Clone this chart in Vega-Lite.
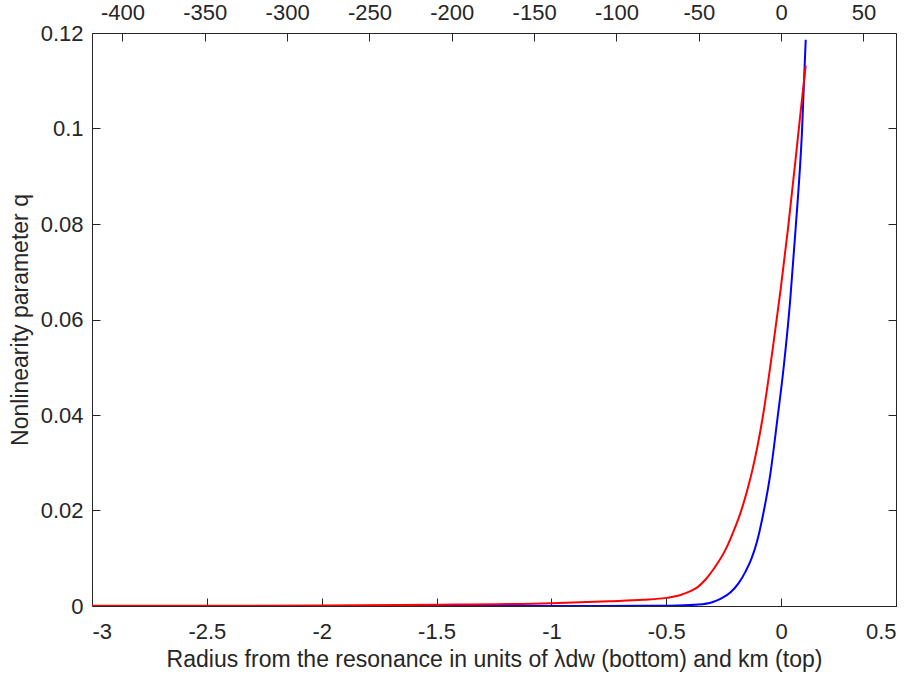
{
  "$schema": "https://vega.github.io/schema/vega-lite/v6.json",
  "width": 804,
  "height": 573,
  "autosize": {"type": "none"},
  "padding": {"left": 92, "top": 33, "right": 20, "bottom": 77},
  "background": "white",
  "config": {
    "locale": {
      "number": {"decimal": ".", "thousands": ",", "grouping": [3], "currency": ["$", ""], "minus": "-"}
    },
    "view": {"stroke": "#262626", "strokeWidth": 1},
    "axis": {
      "grid": false,
      "domain": false,
      "tickColor": "#262626",
      "labelColor": "#262626",
      "titleColor": "#262626",
      "labelFont": "Liberation Sans",
      "titleFont": "Liberation Sans",
      "labelFontSize": 22,
      "titleFontSize": 23,
      "titleFontWeight": "normal",
      "tickSize": 8,
      "tickWidth": 1,
      "offset": -8,
      "labelPadding": 9
    }
  },
  "layer": [
    {
      "data": {
        "values": [
          {"x": -3.0, "q": 0.0, "series": "blue"},
          {"x": -1.0, "q": 0.00001, "series": "blue"},
          {"x": -0.6, "q": 0.00003, "series": "blue"},
          {"x": -0.45, "q": 0.0001, "series": "blue"},
          {"x": -0.36, "q": 0.0003, "series": "blue"},
          {"x": -0.3, "q": 0.0008, "series": "blue"},
          {"x": -0.26, "q": 0.0016, "series": "blue"},
          {"x": -0.22, "q": 0.0029, "series": "blue"},
          {"x": -0.185, "q": 0.0048, "series": "blue"},
          {"x": -0.155, "q": 0.0072, "series": "blue"},
          {"x": -0.13, "q": 0.0098, "series": "blue"},
          {"x": -0.105, "q": 0.0135, "series": "blue"},
          {"x": -0.08, "q": 0.0188, "series": "blue"},
          {"x": -0.046, "q": 0.028, "series": "blue"},
          {"x": -0.018, "q": 0.0385, "series": "blue"},
          {"x": 0.011, "q": 0.05, "series": "blue"},
          {"x": 0.039, "q": 0.0638, "series": "blue"},
          {"x": 0.063, "q": 0.079, "series": "blue"},
          {"x": 0.091, "q": 0.0996, "series": "blue"},
          {"x": 0.107, "q": 0.1186, "series": "blue"},
          {"x": -3.0, "q": 0.00003, "series": "red"},
          {"x": -2.5, "q": 0.00005, "series": "red"},
          {"x": -2.0, "q": 0.0001, "series": "red"},
          {"x": -1.5, "q": 0.00025, "series": "red"},
          {"x": -1.0, "q": 0.0006, "series": "red"},
          {"x": -0.75, "q": 0.001, "series": "red"},
          {"x": -0.6, "q": 0.0013, "series": "red"},
          {"x": -0.5, "q": 0.0017, "series": "red"},
          {"x": -0.438, "q": 0.0023, "series": "red"},
          {"x": -0.4, "q": 0.003, "series": "red"},
          {"x": -0.365, "q": 0.0039, "series": "red"},
          {"x": -0.33, "q": 0.0055, "series": "red"},
          {"x": -0.293, "q": 0.0078, "series": "red"},
          {"x": -0.235, "q": 0.0125, "series": "red"},
          {"x": -0.2, "q": 0.0165, "series": "red"},
          {"x": -0.177, "q": 0.0195, "series": "red"},
          {"x": -0.139, "q": 0.0258, "series": "red"},
          {"x": -0.126, "q": 0.0283, "series": "red"},
          {"x": -0.082, "q": 0.039, "series": "red"},
          {"x": -0.032, "q": 0.0555, "series": "red"},
          {"x": -0.003, "q": 0.066, "series": "red"},
          {"x": 0.031, "q": 0.0795, "series": "red"},
          {"x": 0.084, "q": 0.1031, "series": "red"},
          {"x": 0.107, "q": 0.1132, "series": "red"}
        ]
      },
      "mark": {"type": "line", "strokeWidth": 2, "interpolate": "monotone", "clip": true},
      "encoding": {
        "x": {
          "field": "x",
          "type": "quantitative",
          "scale": {"domain": [-3, 0.5], "nice": false, "zero": false},
          "axis": {
            "orient": "bottom",
            "values": [-3, -2.5, -2, -1.5, -1, -0.5, 0, 0.5],
            "format": "~f",
            "labelPadding": 15,
            "title": "Radius from the resonance in units of λdw (bottom) and km (top)",
            "titlePadding": 6
          }
        },
        "y": {
          "field": "q",
          "type": "quantitative",
          "scale": {"domain": [0, 0.12], "nice": false, "zero": false},
          "axis": {
            "orient": "left",
            "values": [0, 0.02, 0.04, 0.06, 0.08, 0.1, 0.12],
            "format": "~f",
            "title": "Nonlinearity parameter q",
            "titlePadding": 8
          }
        },
        "color": {
          "field": "series",
          "type": "nominal",
          "scale": {"domain": ["blue", "red"], "range": ["#0000ff", "#ff0000"]},
          "legend": null
        }
      }
    },
    {
      "data": {"values": [{"km": 0, "q": 0}]},
      "mark": {"type": "point", "opacity": 0},
      "encoding": {
        "x": {
          "field": "km",
          "type": "quantitative",
          "scale": {"domain": [-418.5, 69.75], "nice": false, "zero": false},
          "axis": {
            "orient": "top",
            "values": [-400, -350, -300, -250, -200, -150, -100, -50, 0, 50],
            "format": "~f",
            "title": null
          }
        },
        "y": {
          "field": "q",
          "type": "quantitative",
          "scale": {"domain": [0, 0.12], "nice": false, "zero": false},
          "axis": {
            "orient": "right",
            "values": [0, 0.02, 0.04, 0.06, 0.08, 0.1, 0.12],
            "labels": false,
            "title": null
          }
        }
      }
    }
  ],
  "resolve": {
    "scale": {"x": "independent", "y": "independent"},
    "axis": {"x": "independent", "y": "independent"}
  }
}
